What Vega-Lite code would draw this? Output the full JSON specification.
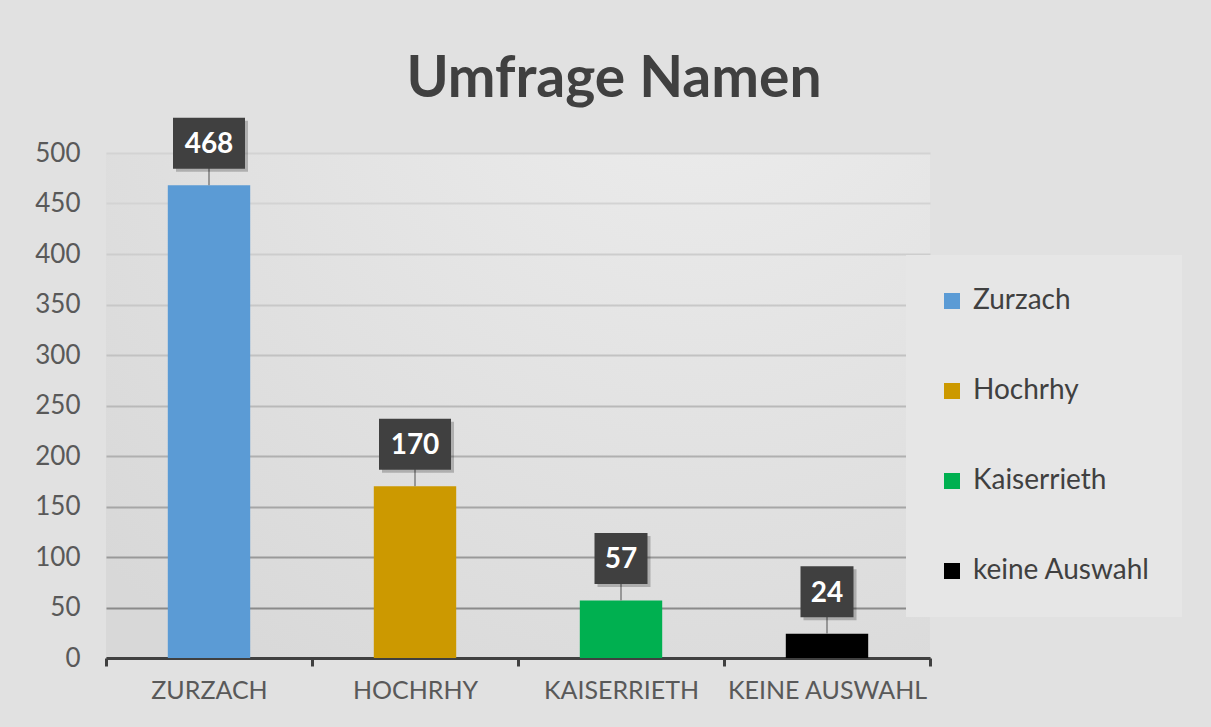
{
  "$schema": "https://vega.github.io/schema/vega-lite/v6.json",
  "width": 824,
  "height": 505,
  "autosize": {"type": "none"},
  "padding": {"left": 106, "top": 153, "right": 281, "bottom": 69},
  "background": "#e1e1e1",
  "config": {
    "view": {
      "stroke": null,
      "fill": {
        "gradient": "radial",
        "x1": 0.72, "y1": 0.0, "r1": 0,
        "x2": 0.72, "y2": 0.0, "r2": 1.0,
        "stops": [
          {"offset": 0, "color": "#eeeeee"},
          {"offset": 1, "color": "#d8d8d8"}
        ]
      }
    },
    "font": "Lato"
  },
  "title": {
    "text": "Umfrage Namen",
    "font": "Lato",
    "fontSize": 57,
    "fontWeight": "bold",
    "color": "#404040",
    "anchor": "middle",
    "frame": "group",
    "baseline": "alphabetic",
    "dx": 96,
    "offset": -36
  },
  "data": {
    "values": [
      {"ort": "Zurzach", "anzahl": 468},
      {"ort": "Hochrhy", "anzahl": 170},
      {"ort": "Kaiserrieth", "anzahl": 57},
      {"ort": "keine Auswahl", "anzahl": 24}
    ]
  },
  "encoding": {
    "x": {
      "field": "ort",
      "type": "nominal",
      "sort": null,
      "scale": {"paddingInner": 0, "paddingOuter": 0},
      "axis": {
        "title": null,
        "labelAngle": 0,
        "labelExpr": "upper(datum.label)",
        "labelFont": "Lato",
        "labelFontSize": 25,
        "labelColor": "#595959",
        "labelPadding": 12,
        "labelLimit": 400,
        "domainColor": "#404040",
        "domainWidth": 3,
        "tickBand": "extent",
        "tickColor": "#404040",
        "tickWidth": 3,
        "tickSize": 8,
        "grid": false
      }
    },
    "y": {
      "field": "anzahl",
      "type": "quantitative",
      "scale": {"domain": [0, 500], "nice": false},
      "axis": {
        "title": null,
        "values": [0, 50, 100, 150, 200, 250, 300, 350, 400, 450, 500],
        "domain": false,
        "ticks": false,
        "tickSize": 0,
        "labelPadding": 26,
        "labelFont": "Lato",
        "labelFontSize": 26,
        "labelColor": "#595959",
        "grid": true,
        "gridWidth": 2,
        "gridColor": {
          "condition": [
            {"test": "datum.value <= 50", "value": "#8a8a8a"},
            {"test": "datum.value <= 100", "value": "#999999"},
            {"test": "datum.value <= 150", "value": "#a6a6a6"},
            {"test": "datum.value <= 200", "value": "#b0b0b0"},
            {"test": "datum.value <= 250", "value": "#b9b9b9"},
            {"test": "datum.value <= 300", "value": "#c2c2c2"},
            {"test": "datum.value <= 350", "value": "#c8c8c8"},
            {"test": "datum.value <= 400", "value": "#cdcdcd"}
          ],
          "value": "#d3d3d3"
        }
      }
    }
  },
  "layer": [
    {
      "mark": {"type": "bar", "width": {"band": 0.4}},
      "encoding": {
        "color": {
          "field": "ort",
          "type": "nominal",
          "scale": {
            "domain": ["Zurzach", "Hochrhy", "Kaiserrieth", "keine Auswahl"],
            "range": ["#5B9BD5", "#CC9900", "#00B050", "#000000"]
          },
          "legend": {
            "title": null,
            "orient": "none",
            "legendX": 800,
            "legendY": 102,
            "fillColor": "#e6e6e6",
            "padding": 32,
            "symbolType": "square",
            "symbolSize": 256,
            "symbolStrokeWidth": 0,
            "labelFont": "Lato",
            "labelFontSize": 28,
            "labelColor": "#404040",
            "labelOffset": 7,
            "rowPadding": 62,
            "labelLimit": 300
          }
        }
      }
    },
    {
      "mark": {"type": "rule", "color": "#7f7f7f", "strokeWidth": 1.5, "y2Offset": -42},
      "encoding": {
        "y2": {"field": "anzahl"}
      }
    },
    {
      "mark": {"type": "point", "filled": true, "color": "#000000", "opacity": 0.22, "xOffset": 3, "yOffset": -39, "strokeWidth": 0},
      "encoding": {
        "shape": {
          "condition": {"test": "datum.anzahl >= 100", "value": "M-1,-0.708L1,-0.708L1,0.708L-1,0.708Z"},
          "value": "M-1,-0.962L1,-0.962L1,0.962L-1,0.962Z"
        },
        "size": {
          "condition": {"test": "datum.anzahl >= 100", "value": 5184},
          "value": 2809
        }
      }
    },
    {
      "mark": {"type": "point", "filled": true, "color": "#404040", "opacity": 1, "yOffset": -42, "strokeWidth": 0},
      "encoding": {
        "shape": {
          "condition": {"test": "datum.anzahl >= 100", "value": "M-1,-0.708L1,-0.708L1,0.708L-1,0.708Z"},
          "value": "M-1,-0.962L1,-0.962L1,0.962L-1,0.962Z"
        },
        "size": {
          "condition": {"test": "datum.anzahl >= 100", "value": 5184},
          "value": 2809
        }
      }
    },
    {
      "mark": {"type": "text", "color": "#ffffff", "font": "Lato", "fontSize": 28, "fontWeight": "bold", "baseline": "alphabetic", "yOffset": -32},
      "encoding": {
        "text": {"field": "anzahl", "type": "quantitative"}
      }
    }
  ]
}
